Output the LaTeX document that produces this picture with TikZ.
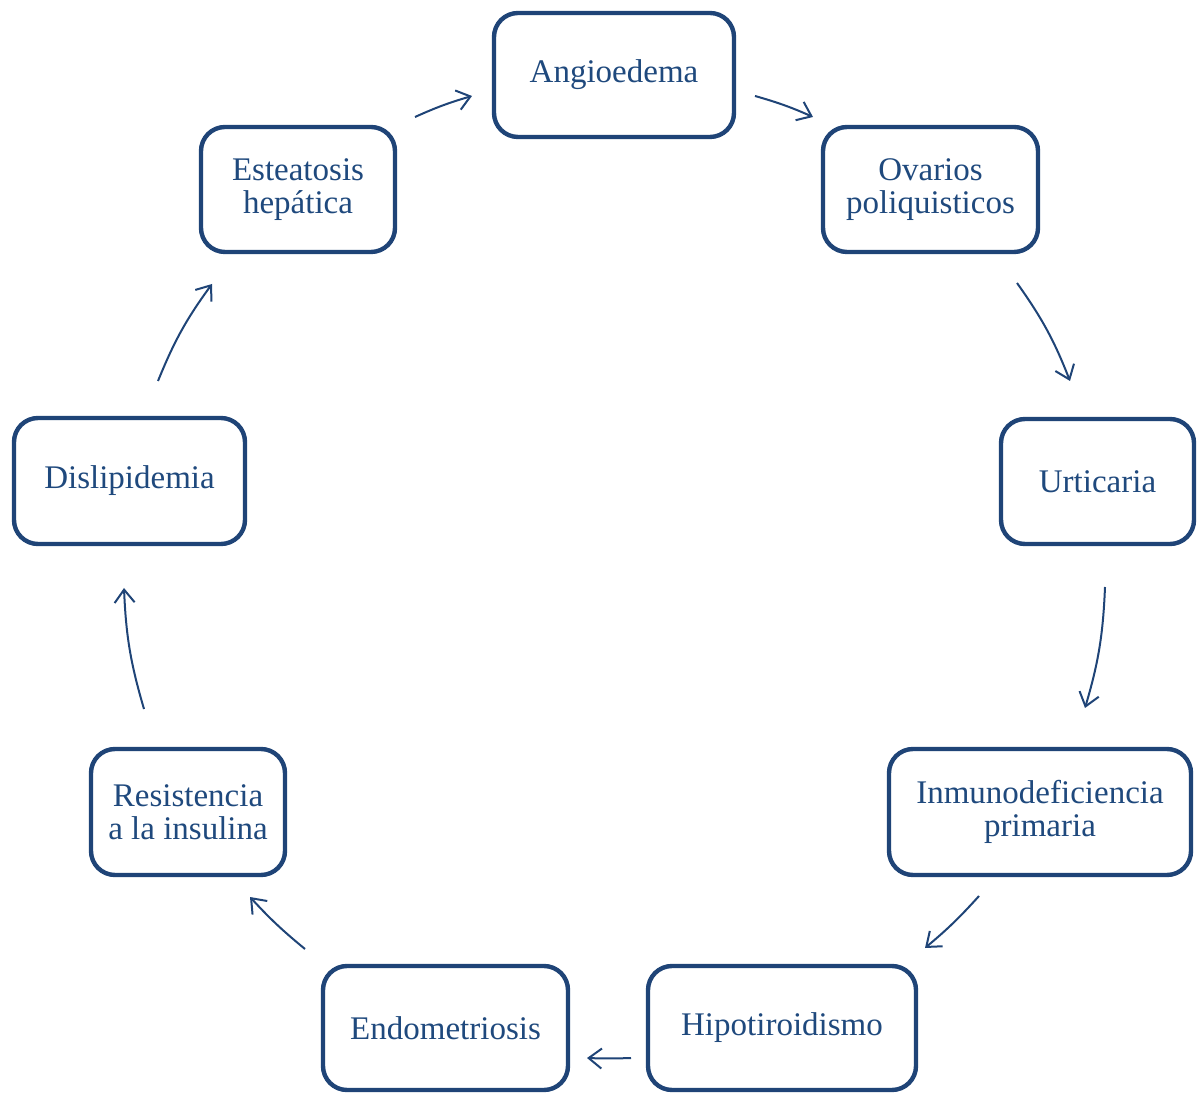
\documentclass[tikz,border=0pt]{standalone}
\usepackage{fontspec}
\setmainfont{Liberation Serif}
\usetikzlibrary{arrows.meta}
\definecolor{boxblue}{HTML}{1F4477}
\definecolor{txtblue}{HTML}{1F497D}
\tikzset{
  stagebox/.style={draw=boxblue, line width=2.2pt, rounded corners=12pt, fill=white,
    text=txtblue, align=center, font=\fontsize{16.5}{16.5}\selectfont, inner sep=0pt},
  cyclearrow/.style={draw=boxblue, line width=1pt, -{Straight Barb[length=6.5pt,width=10pt,line width=1pt]}},
}
\begin{document}
\begin{tikzpicture}[x=0.5pt,y=0.5pt]
\useasboundingbox (0,0) rectangle (1198,1092);
\node[stagebox, minimum width=120pt, minimum height=62pt] (ang) at (614,1017) {Angioedema};
\node[stagebox, minimum width=107.5pt, minimum height=62.5pt] (ova) at (930.5,902.5) {Ovarios\\poliquisticos};
\node[stagebox, minimum width=96.5pt, minimum height=62.5pt] (urt) at (1097.5,610.5) {Urticaria};
\node[stagebox, minimum width=151pt, minimum height=63pt] (inm) at (1040,280) {Inmunodeficiencia\\primaria};
\node[stagebox, minimum width=134pt, minimum height=62pt] (hip) at (782,64) {Hipotiroidismo};
\node[stagebox, minimum width=122.5pt, minimum height=62pt] (end) at (445.5,64) {Endometriosis};
\node[stagebox, minimum width=97pt, minimum height=63pt] (res) at (188,280) {Resistencia\\a la insulina};
\node[stagebox, minimum width=115.5pt, minimum height=63pt] (dis) at (129.5,611) {Dislipidemia};
\node[stagebox, minimum width=97pt, minimum height=62.5pt] (est) at (298,902.5) {Esteatosis\\hepática};

\coordinate (es1) at (415,975); \coordinate (es2) at (472,996);
\coordinate (ao1) at (755,996); \coordinate (ao2) at (813,975);
\coordinate (ou1) at (1017,809); \coordinate (ou2) at (1070,711);
\coordinate (ui1) at (1105,505); \coordinate (ui2) at (1085,384);
\coordinate (ih1) at (979,196); \coordinate (ih2) at (925,144);
\coordinate (he1) at (631,34); \coordinate (he2) at (587,34);
\coordinate (er1) at (305,143); \coordinate (er2) at (250,195);
\coordinate (rd1) at (144,383); \coordinate (rd2) at (124,504);
\coordinate (ds1) at (158,711); \coordinate (ds2) at (212,808);

\draw[cyclearrow] (es1) to[bend left=4] (es2);
\draw[cyclearrow] (ao1) to[bend left=4] (ao2);
\draw[cyclearrow] (ou1) to[bend left=7] (ou2);
\draw[cyclearrow] (ui1) to[bend left=7] (ui2);
\draw[cyclearrow] (ih1) to[bend left=4] (ih2);
\draw[cyclearrow] (he1) to[bend left=2] (he2);
\draw[cyclearrow] (er1) to[bend left=4] (er2);
\draw[cyclearrow] (rd1) to[bend left=7] (rd2);
\draw[cyclearrow] (ds1) to[bend left=7] (ds2);
\end{tikzpicture}
\end{document}
